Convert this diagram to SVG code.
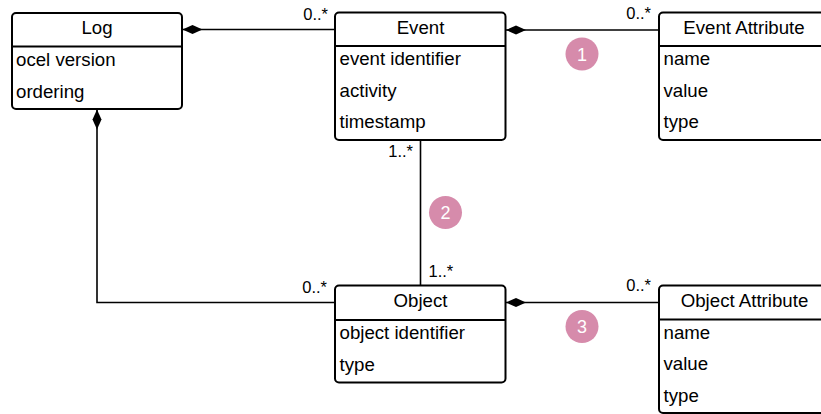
<svg xmlns="http://www.w3.org/2000/svg" width="821" height="414" viewBox="0 0 821 414">
  <style>
    .box { fill: #ffffff; stroke: #000000; stroke-width: 2; }
    .sep { stroke: #000000; stroke-width: 2; }
    .title { font-family: "Liberation Sans", Arial, sans-serif; font-size: 18.67px; fill: #000000; text-anchor: middle; }
    .attr { font-family: "Liberation Sans", Arial, sans-serif; font-size: 18.67px; fill: #000000; }
    .mult { font-family: "Liberation Sans", Arial, sans-serif; font-size: 16.5px; fill: #000000; }
    .edge { fill: none; stroke: #000000; stroke-width: 1.6; }
    .badge { fill: #d68bab; }
    .badge-num { font-family: "Liberation Sans", Arial, sans-serif; font-size: 18px; fill: #ffffff; text-anchor: middle; }
  </style>
  <defs>
    <marker id="diamond" markerUnits="userSpaceOnUse" markerWidth="22" markerHeight="12" refX="0" refY="5" orient="auto" viewBox="0 0 22 10">
      <path d="M0.5,5 L10.5,0.5 L20.5,5 L10.5,9.5 Z" fill="#000000"/>
    </marker>
  </defs>

  <!-- connectors -->
  <g id="connectors">
    <path class="edge" d="M182,29.5 L335,29.5" marker-start="url(#diamond)"/>
    <path class="edge" d="M505.5,30 L659,30" marker-start="url(#diamond)"/>
    <path class="edge" d="M420.5,140 L420.5,285.5"/>
    <path class="edge" d="M97,109 L97,302.5 L335,302.5" marker-start="url(#diamond)"/>
    <path class="edge" d="M505.5,302.5 L659,302.5" marker-start="url(#diamond)"/>

    <text class="mult" x="328" y="20" text-anchor="end">0..*</text>
    <text class="mult" x="651" y="18.5" text-anchor="end">0..*</text>
    <text class="mult" x="413" y="157" text-anchor="end">1..*</text>
    <text class="mult" x="428.5" y="277">1..*</text>
    <text class="mult" x="327" y="292.5" text-anchor="end">0..*</text>
    <text class="mult" x="651" y="291" text-anchor="end">0..*</text>

    <circle class="badge" cx="582" cy="54" r="16.5"/>
    <text class="badge-num" x="582" y="60.5">1</text>
    <circle class="badge" cx="445.5" cy="212.5" r="16.5"/>
    <text class="badge-num" x="445.5" y="219">2</text>
    <circle class="badge" cx="582" cy="326.5" r="16.5"/>
    <text class="badge-num" x="582" y="333">3</text>
  </g>

  <!-- Log -->
  <g id="log">
    <rect class="box" x="12" y="13" width="170" height="96" rx="4"/>
    <line class="sep" x1="12" y1="46.5" x2="182" y2="46.5"/>
    <text class="title" x="97" y="34">Log</text>
    <text class="attr" x="16" y="66">ocel version</text>
    <text class="attr" x="16" y="97.5">ordering</text>
  </g>

  <!-- Event -->
  <g id="event">
    <rect class="box" x="335" y="12.5" width="170.5" height="127.5" rx="4"/>
    <line class="sep" x1="335" y1="46" x2="505.5" y2="46"/>
    <text class="title" x="420.5" y="33.5">Event</text>
    <text class="attr" x="339.5" y="65">event identifier</text>
    <text class="attr" x="339.5" y="96.5">activity</text>
    <text class="attr" x="339.5" y="128">timestamp</text>
  </g>

  <!-- Event Attribute -->
  <g id="event-attribute">
    <rect class="box" x="659" y="12.5" width="170" height="127.5" rx="4"/>
    <line class="sep" x1="659" y1="46" x2="829" y2="46"/>
    <text class="title" x="744" y="33.5">Event Attribute</text>
    <text class="attr" x="663.5" y="65">name</text>
    <text class="attr" x="663.5" y="96.5">value</text>
    <text class="attr" x="663.5" y="128">type</text>
  </g>

  <!-- Object -->
  <g id="object">
    <rect class="box" x="335" y="285.5" width="170.5" height="97" rx="4"/>
    <line class="sep" x1="335" y1="320" x2="505.5" y2="320"/>
    <text class="title" x="420.5" y="306.5">Object</text>
    <text class="attr" x="339.5" y="339">object identifier</text>
    <text class="attr" x="339.5" y="370.5">type</text>
  </g>

  <!-- Object Attribute -->
  <g id="object-attribute">
    <rect class="box" x="659" y="285.5" width="170" height="127.5" rx="4"/>
    <line class="sep" x1="659" y1="319.5" x2="829" y2="319.5"/>
    <text class="title" x="744.5" y="306.5">Object Attribute</text>
    <text class="attr" x="663.5" y="338.5">name</text>
    <text class="attr" x="663.5" y="370">value</text>
    <text class="attr" x="663.5" y="401.5">type</text>
  </g>
</svg>
